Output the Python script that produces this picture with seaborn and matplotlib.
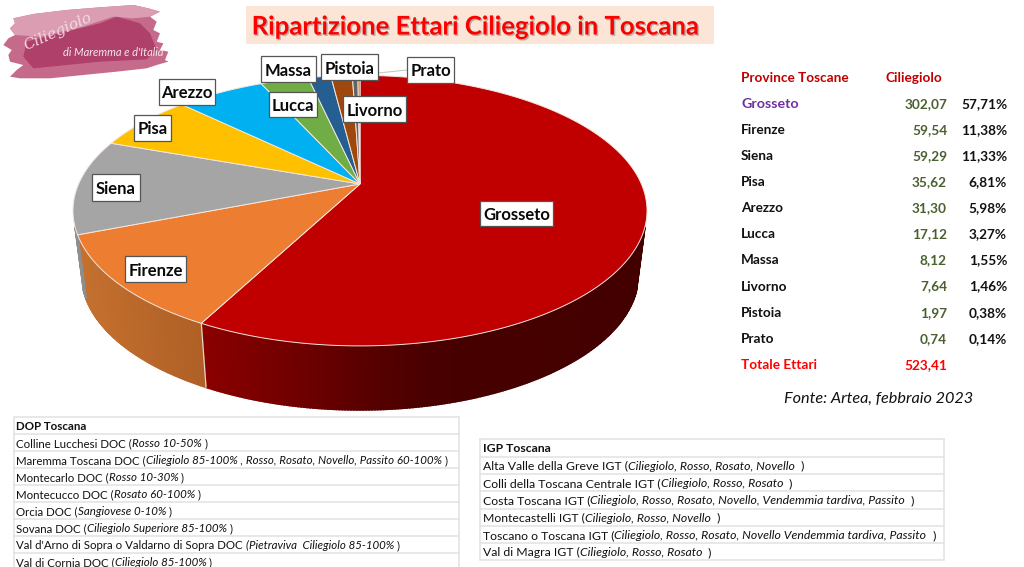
import numpy as np
import seaborn as sns
import matplotlib.pyplot as plt
import matplotlib.patheffects as pe
from matplotlib.colors import to_rgb
from matplotlib.patches import Polygon, Rectangle

province = ['Grosseto', 'Firenze', 'Siena', 'Pisa', 'Arezzo', 'Lucca', 'Massa', 'Livorno', 'Pistoia', 'Prato']
ettari = [302.07, 59.54, 59.29, 35.62, 31.30, 17.12, 8.12, 7.64, 1.97, 0.74]
quote = [57.71, 11.38, 11.33, 6.81, 5.98, 3.27, 1.55, 1.46, 0.38, 0.14]
totale = 523.41
colori = ['#C00000', '#ED7D31', '#A5A5A5', '#FFC000', '#00B0F0', '#70AD47', '#255E91', '#9E480E', '#636363', '#997300']

dop_righe = [
    ('Colline Lucchesi DOC (', 'Rosso 10-50%', ' )'),
    ('Maremma Toscana DOC (', 'Ciliegiolo 85-100% , Rosso, Rosato, Novello, Passito 60-100%', ' )'),
    ('Montecarlo DOC (', 'Rosso 10-30%', ' )'),
    ('Montecucco DOC (', 'Rosato 60-100%', ' )'),
    ('Orcia DOC (', 'Sangiovese 0-10%', ' )'),
    ('Sovana DOC (', 'Ciliegiolo Superiore 85-100%', ' )'),
    ("Val d'Arno di Sopra o Valdarno di Sopra DOC", '(Pietraviva  Ciliegiolo 85-100%', ' )'),
    ('Val di Cornia DOC (', 'Ciliegiolo 85-100%', ' )'),
]
igp_righe = [
    ('Alta Valle della Greve IGT (', 'Ciliegiolo, Rosso, Rosato, Novello', ' )'),
    ('Colli della Toscana Centrale IGT (', 'Ciliegiolo, Rosso, Rosato', ' )'),
    ('Costa Toscana IGT (', 'Ciliegiolo, Rosso, Rosato, Novello, Vendemmia tardiva, Passito', ' )'),
    ('Montecastelli IGT (', 'Ciliegiolo, Rosso, Novello', ' )'),
    ('Toscano o Toscana IGT (', 'Ciliegiolo, Rosso, Rosato, Novello Vendemmia tardiva, Passito', ' )'),
    ('Val di Magra IGT (', 'Ciliegiolo, Rosso, Rosato', ' )'),
]

sns.set_theme(style='white')
plt.rcParams['font.family'] = ['Lato', 'DejaVu Sans']

fig = plt.figure(figsize=(10.24, 5.67), dpi=100)
ax = fig.add_axes([0, 0, 1, 1])
ax.set_xlim(0, 1024)
ax.set_ylim(567, 0)
ax.axis('off')
palette = sns.color_palette(colori)

# pie geometry: circle seen in perspective, so the front half is bigger
cx, cy = 360, 184
k, A, B = 0.197, 130, 281.4
spessore = 64
ritiro = 0.97


def proietta(theta):
    u, v = np.sin(theta), -np.cos(theta)
    w = 1 - k * v
    return cx + B * u / w, cy + A * v / w


def parete(t0, t1, stops):
    tt = np.radians(np.arange(t0, t1 + 1e-6, 0.5))
    if tt[-1] < np.radians(t1):
        tt = np.append(tt, np.radians(t1))
    xs, ys = proietta(tt)
    xb = cx + ritiro * (xs - cx)
    yb = ys + spessore
    sx = [s[0] for s in stops]
    rgb = np.array([to_rgb(s[1]) for s in stops])
    for i in range(len(tt) - 1):
        xm = (xs[i] + xs[i + 1]) / 2
        col = [np.interp(xm, sx, rgb[:, c]) for c in range(3)]
        quad = [(xs[i], ys[i]), (xs[i + 1], ys[i + 1]), (xb[i + 1], yb[i + 1]), (xb[i], yb[i])]
        ax.add_patch(Polygon(quad, closed=True, fc=col, ec=col, lw=1.2, zorder=1))


limiti = np.concatenate([[0], np.cumsum(ettari)]) / totale * 360

parete(108, limiti[1], [(204, '#8A0000'), (300, '#6E0000'), (360, '#5A0000'), (430, '#480000'), (650, '#430000')])
parete(limiti[1], limiti[2], [(78, '#C4702F'), (207, '#AE5F25')])
parete(limiti[2], 252, [(70, '#8E8E8E'), (90, '#8E8E8E')])

for i in range(len(ettari)):
    tt = np.radians(np.linspace(limiti[i], limiti[i + 1], 200))
    xs, ys = proietta(tt)
    pts = np.column_stack([np.r_[cx, xs], np.r_[cy, ys]])
    ax.add_patch(Polygon(pts, closed=True, fc=palette[i], ec='#F3E6E0', lw=0.7, zorder=2))

# wall separator
x0, y0 = proietta(np.radians(limiti[1]))
ax.plot([x0, cx + ritiro * (x0 - cx)], [y0, y0 + spessore], color='#E8D8D0', lw=0.8, zorder=3)

# leader of Prato
ax.plot([378, 407], [73, 70], color='#C8C8C8', lw=0.8, zorder=3)

# data labels
etichette = {
    'Grosseto': (480, 201, 553, 226), 'Firenze': (125, 256, 186, 282), 'Siena': (92, 174, 140, 201),
    'Pisa': (134, 115, 171, 141), 'Arezzo': (159, 79, 215, 105), 'Lucca': (269, 92, 317, 117),
    'Massa': (261, 56, 316, 82), 'Livorno': (343, 96, 406, 122), 'Pistoia': (321, 54, 378, 80),
    'Prato': (407, 57, 454, 83),
}
for nome, (x1, y1, x2, y2) in etichette.items():
    ax.add_patch(Rectangle((x1, y1), x2 - x1, y2 - y1, fc='white', ec='#555555', lw=0.9, zorder=5))
    ax.text((x1 + x2) / 2, (y1 + y2) / 2, nome, ha='center', va='center_baseline', fontsize=12,
            fontweight='bold', color='#0A0A0A', zorder=6)

# title
ax.add_patch(Rectangle((246, 6), 468, 38, fc='#FBE5D6', ec='none', zorder=1))
ax.text(476, 24.5, 'Ripartizione Ettari Ciliegiolo in Toscana', ha='center', va='center_baseline', fontsize=18.5,
        fontweight='bold', color='#FF0000', zorder=3,
        path_effects=[pe.withSimplePatchShadow(offset=(1, -1), shadow_rgbFace='#777777', alpha=0.5)])

# logo
pennellata = np.array([(40, 55), (100, 42), (200, 30), (300, 22), (400, 15), (445, 25), (480, 35), (450, 50), (470, 65),
                       (460, 90), (480, 100), (470, 125), (490, 130), (480, 150), (505, 155), (495, 180), (505, 185),
                       (470, 195), (440, 205), (350, 215), (250, 225), (150, 235), (60, 235), (30, 230), (50, 210),
                       (70, 195), (30, 185), (25, 165), (35, 150), (10, 135), (25, 115), (45, 105), (30, 85), (45, 70)]) / 3
chiaro = np.array([(40, 55), (100, 42), (200, 30), (300, 22), (400, 15), (445, 25), (480, 35), (450, 50), (400, 55),
                   (340, 50), (250, 80), (120, 110), (45, 105), (30, 85), (45, 70)]) / 3
scuro = np.array([(80, 125), (200, 95), (300, 70), (350, 50), (420, 70), (450, 100), (470, 150), (440, 178), (300, 185),
                  (200, 195), (100, 205), (70, 170)]) / 3
ax.add_patch(Polygon(pennellata, closed=True, fc='#C66A8C', ec='none', zorder=1))
ax.add_patch(Polygon(chiaro, closed=True, fc='#DB9DB2', ec='none', zorder=2))
ax.add_patch(Polygon(scuro, closed=True, fc='#AE4069', ec='none', zorder=2))
ax.text(25, 47, 'Ciliegiolo', fontsize=11, family='DejaVu Serif', style='italic', color='#F3D9E2', rotation=24,
        ha='left', va='center', zorder=3, rotation_mode='anchor')
ax.text(113, 53, "di Maremma e d'Italia", fontsize=8, style='italic', color='#F6E4EA', ha='center', va='center',
        zorder=3, family=['Liberation Sans Narrow', 'Lato'])

# province table
ax.text(741, 77, 'Province Toscane', color='#C00000', fontsize=9.8, fontweight='bold', va='center_baseline')
ax.text(886, 77, 'Ciliegiolo', color='#C00000', fontsize=9.8, fontweight='bold', va='center_baseline')
for i, nome in enumerate(province):
    y = 103 + i * 26.08
    col = '#7030A0' if i == 0 else '#111111'
    ax.text(741, y, nome, color=col, fontsize=10.3 if i == 0 else 9.8, fontweight='bold', va='center_baseline')
    ax.text(947, y, f'{ettari[i]:.2f}'.replace('.', ','), color='#4A6030', fontsize=9.8, fontweight='bold',
            ha='right', va='center_baseline')
    ax.text(1007, y, f'{quote[i]:.2f}'.replace('.', ',') + '%', color='#111111', fontsize=9.8, fontweight='bold',
            ha='right', va='center_baseline')
ax.text(741, 363.7, 'Totale Ettari', color='#FF0000', fontsize=9.8, fontweight='bold', va='center_baseline')
ax.text(947, 363.7, f'{totale:.2f}'.replace('.', ','), color='#FF0000', fontsize=9.8, fontweight='bold',
        ha='right', va='center_baseline')
ax.text(879, 397, 'Fonte: Artea, febbraio 2023', color='#111111', fontsize=11.7, style='italic', ha='center',
        va='center_baseline')

renderer = fig.canvas.get_renderer()


def riga(x, y, pezzi, size):
    # plain + italic + plain on one line, each piece starts where the last ended
    for testo, stile in zip(pezzi, ['normal', 'italic', 'normal']):
        t = ax.text(x, y, testo, fontsize=size, style=stile, color='#111111', va='center_baseline', zorder=3,
                    clip_on=True)
        x = t.get_window_extent(renderer).x1
        if testo[-1] not in '(%':
            x += 3


def griglia(x1, x2, y_top, passo, n):
    for r in range(n + 1):
        ax.plot([x1, x2], [y_top + r * passo] * 2, color='#E2E2E2', lw=1.1, zorder=1, clip_on=True)
    y_end = min(y_top + n * passo, 567)
    for xv in (x1, x2):
        ax.plot([xv, xv], [y_top, y_end], color='#E2E2E2', lw=1.1, zorder=1)


griglia(14, 459, 417.3, 17, 9)
ax.text(16, 417.3 + 8.5, 'DOP Toscana', fontsize=8.3, fontweight='bold', color='#111111', va='center_baseline')
for i, pezzi in enumerate(dop_righe):
    riga(16, 417.3 + 8.5 + (i + 1) * 17, pezzi, 8.3)

griglia(480, 944, 439.3, 17.3, 7)
ax.text(483, 439.3 + 8.6, 'IGP Toscana', fontsize=8.8, fontweight='bold', color='#111111', va='center_baseline')
for i, pezzi in enumerate(igp_righe):
    riga(483, 439.3 + 8.6 + (i + 1) * 17.3, pezzi, 8.8)

fig.savefig('out.png', dpi=100)
